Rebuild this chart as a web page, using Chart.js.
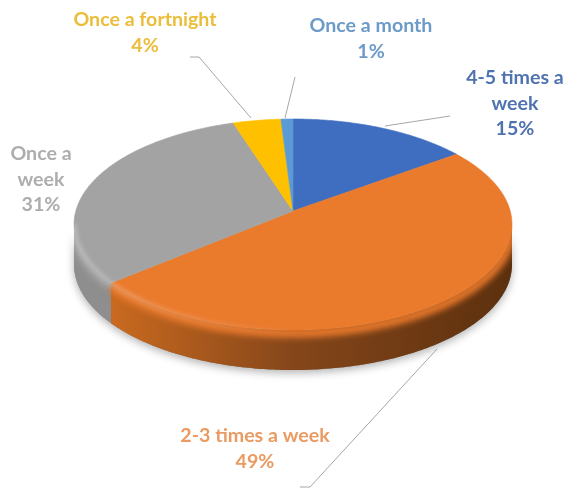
<!DOCTYPE html>
<html lang="en">

<head>
  <meta charset="UTF-8">
  <script src="https://cdn.jsdelivr.net/npm/chart.js"></script>
  <style>
    body {
      margin: 0;
      background: #fff;
    }

    #myChart {
      display: block;
    }
  </style>
</head>

<body>
  <canvas id="myChart" width="566" height="491"></canvas>
</body>
<script>
  const categories = ['4-5 times a week', '2-3 times a week', 'Once a week', 'Once a fortnight', 'Once a month'];
  const shares = [15, 49, 31, 4, 1];
  const sliceColors = ['#3f6dbf', '#ea7a2c', '#a3a3a3', '#ffc000', '#5b9bd5'];
  const textColors = ['#4f72b0', '#eb9a62', '#adadad', '#ebbd3a', '#6c9bc8'];
  const wallColors = ['#2c4d87', '#c8691f', '#8e8e8e', '#b38600', '#3f6d96'];
  const wallDarkColors = ['#2c4d87', '#5c300e', '#858585', '#b38600', '#3f6d96'];

  // label text is wrapped by hand, one entry per line
  const labelLines = [
    ['4-5 times a', 'week'],
    ['2-3 times a week'],
    ['Once a', 'week'],
    ['Once a fortnight'],
    ['Once a month'],
  ];
  const labelPlaces = [[515, 78], [255, 436], [41, 154], [145, 20], [371, 26]];
  const labelLeaders = [
    [[385, 126], [450, 116]],
    [[437, 349], [310, 487], [300, 487]],
    [],
    [[190, 57], [199, 57], [251, 118]],
    [[295, 77], [285, 118]],
  ];

  // perspective disc: the apex sits above the ellipse centre
  const CX = 293, CY = 211, RX = 217.2, RY = 103.8, TILT = 0.128, DEPTH = 40;
  const EDGE = Math.asin(TILT);

  const project = (a, drop = 0) => {
    const d = 1 - TILT * Math.sin(a);
    return [CX + RX * Math.cos(a) / d, CY + drop + RY * Math.sin(a) / d];
  };

  const traceCurve = (ctx, from, to, drop = 0) => {
    const steps = Math.max(2, Math.ceil(Math.abs(to - from) * 80));
    for (let i = 0; i <= steps; i++) {
      const p = project(from + (to - from) * i / steps, drop);
      ctx.lineTo(p[0], p[1]);
    }
  };

  const wallPath = (ctx, from, to) => {
    ctx.beginPath();
    traceCurve(ctx, from, to);
    traceCurve(ctx, to, from, DEPTH);
    ctx.closePath();
  };

  const pie3d = {
    id: 'pie3d',
    // the arcs keep the angles from the pie controller, only their outline is projected
    beforeDatasetsDraw(chart) {
      const ctx = chart.ctx;
      const arcs = chart.getDatasetMeta(0).data;
      const front = arcs
        .map((arc, i) => ({
          i,
          from: Math.max(arc.startAngle, EDGE),
          to: Math.min(arc.endAngle, Math.PI - EDGE),
        }))
        .filter((s) => s.to > s.from);

      ctx.save();
      ctx.shadowColor = 'rgba(0,0,0,0.3)';
      ctx.shadowBlur = 9;
      ctx.shadowOffsetY = 3;
      ctx.fillStyle = '#888';
      wallPath(ctx, EDGE, Math.PI - EDGE);
      ctx.fill();
      ctx.restore();

      front.forEach((s) => {
        const grad = ctx.createLinearGradient(115, 0, 512, 0);
        grad.addColorStop(0, wallColors[s.i]);
        grad.addColorStop(0.45, wallDarkColors[s.i] === wallColors[s.i] ? wallColors[s.i] : '#85461a');
        grad.addColorStop(1, wallDarkColors[s.i]);
        ctx.fillStyle = grad;
        wallPath(ctx, s.from, s.to);
        ctx.fill();
      });

      // soft bevel between the top face and the wall
      ctx.save();
      wallPath(ctx, EDGE, Math.PI - EDGE);
      ctx.clip();
      ctx.filter = 'blur(3px)';
      ctx.lineWidth = 9;
      front.forEach((s) => {
        ctx.strokeStyle = sliceColors[s.i];
        ctx.beginPath();
        traceCurve(ctx, s.from, s.to, 3);
        ctx.stroke();
      });
      ctx.restore();

      arcs.forEach((arc, i) => {
        ctx.fillStyle = sliceColors[i];
        ctx.strokeStyle = sliceColors[i];
        ctx.lineWidth = 0.6;
        ctx.beginPath();
        ctx.moveTo(CX, CY);
        traceCurve(ctx, arc.startAngle, arc.endAngle);
        ctx.closePath();
        ctx.fill();
        ctx.stroke();
      });

      // light catches the rim on the left side only
      ctx.save();
      const rim = ctx.createLinearGradient(70, 0, 300, 0);
      rim.addColorStop(0, 'rgba(255,255,255,0.28)');
      rim.addColorStop(1, 'rgba(255,255,255,0)');
      ctx.filter = 'blur(2px)';
      ctx.strokeStyle = rim;
      ctx.lineWidth = 5;
      ctx.beginPath();
      traceCurve(ctx, Math.PI / 2, Math.PI - EDGE, 0);
      ctx.stroke();
      ctx.restore();

      return false;
    },
    afterDraw(chart) {
      const ctx = chart.ctx;
      ctx.save();
      ctx.strokeStyle = '#a6a6a6';
      ctx.lineWidth = 1;
      labelLeaders.forEach((line) => {
        ctx.beginPath();
        line.forEach((p) => ctx.lineTo(p[0], p[1]));
        ctx.stroke();
      });

      ctx.font = 'bold 19.6px Lato';
      ctx.textAlign = 'center';
      ctx.textBaseline = 'middle';
      categories.forEach((name, i) => {
        ctx.fillStyle = textColors[i];
        const rows = labelLines[i].concat(shares[i] + '%');
        rows.forEach((row, r) => {
          ctx.fillText(row, labelPlaces[i][0], labelPlaces[i][1] + r * 25.5);
        });
      });
      ctx.restore();
    },
  };

  new Chart(document.getElementById('myChart').getContext('2d'), {
    type: 'pie',
    data: {
      labels: categories,
      datasets: [{ data: shares, backgroundColor: sliceColors, borderWidth: 0 }],
    },
    options: {
      responsive: false,
      animation: false,
      plugins: { legend: { display: false }, tooltip: { enabled: false } },
    },
    plugins: [pie3d],
  });
</script>

</html>
